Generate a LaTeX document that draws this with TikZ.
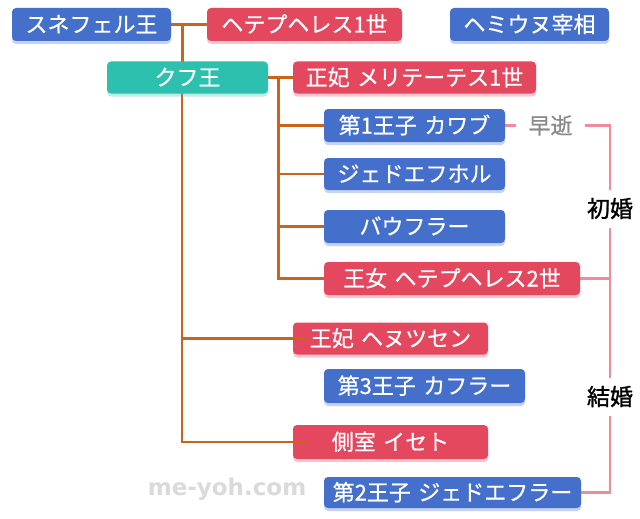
\documentclass[tikz,border=0pt]{standalone}
\usepackage{fontspec}
\setmainfont{Noto Sans CJK JP}[WordSpace=1.5]
\newfontfamily\boxfont{Noto Sans CJK JP}[WordSpace=1.5, FakeBold=0.6]
\newfontfamily\lblfont{Noto Sans CJK JP}[FakeBold=1.2]
\newfontfamily\wmfont{DejaVu Sans}
\usetikzlibrary{shadows,calc}
\pgfdeclarelayer{background}
\pgfsetlayers{background,main}
\definecolor{cblue}{HTML}{4470CC}
\definecolor{cred}{HTML}{E4485E}
\definecolor{cteal}{HTML}{2EC0AE}
\definecolor{corange}{HTML}{C8641C}
\definecolor{cpink}{HTML}{EE8C9C}
\definecolor{cgray}{HTML}{8A8A8A}
\definecolor{cwm}{HTML}{DADADA}
\begin{document}
\begin{tikzpicture}[x=1pt,y=-1pt,
  box/.style={fill=#1, rounded corners=4pt, text=white,
    font=\boxfont\fontsize{22}{22}\selectfont, minimum height=33pt, inner sep=0pt,
    text height=17.5pt, text depth=1.5pt,
    drop shadow={shadow xshift=0pt, shadow yshift=-3pt, opacity=0.3, fill=#1}},
  bluebox/.style={box=cblue},
  redbox/.style={box=cred},
  tealbox/.style={box=cteal},
  lbl/.style={inner sep=0pt, text height=18pt, text depth=1.5pt},
  kin/.style={draw=corange, line width=2.8pt, line cap=rect},
  pinkl/.style={draw=cpink, line width=2.6pt, line cap=rect}]
\useasboundingbox (0,0) rectangle (640,519);

% nodes
\node[bluebox, minimum width=159pt] (sne) at (91.5,24.5) {スネフェル王};
\node[redbox, minimum width=195pt] (hh1) at (304.5,24.5) {ヘテプヘレス1世};
\node[bluebox, minimum width=159pt] (hem) at (529.5,24.5) {ヘミウヌ宰相};
\node[tealbox, minimum width=161pt, minimum height=32pt] (khufu) at (187.5,77.5) {クフ王};
\node[redbox, minimum width=243pt, minimum height=32pt] (meri) at (414.5,77.5) {正妃 メリテーテス1世};
\node[bluebox, minimum width=181pt] (kawab) at (414.5,125.5) {第1王子 カワブ};
\node[bluebox, minimum width=181pt, minimum height=32pt] (djh) at (414.5,174) {ジェドエフホル};
\node[bluebox, minimum width=181pt] (bau) at (414.5,226.5) {バウフラー};
\node[redbox, minimum width=256pt] (hh2) at (452,278.5) {王女 ヘテプヘレス2世};
\node[redbox, minimum width=195pt, minimum height=32pt] (henut) at (390.5,338.5) {王妃 ヘヌツセン};
\node[bluebox, minimum width=201pt, minimum height=34pt] (khafra) at (424.5,386) {第3王子 カフラー};
\node[redbox, minimum width=195pt, minimum height=34pt] (iset) at (390.5,442) {側室 イセト};
\node[bluebox, minimum width=257pt, minimum height=31pt] (djr) at (452.5,492.5) {第2王子 ジェドエフラー};

\node[lbl, text=cgray, minimum width=71pt, font=\boxfont\fontsize{22}{22}\selectfont] (sosei) at (550.5,125.5) {早逝};
\node[lbl, minimum height=40pt, font=\lblfont\fontsize{23}{23}\selectfont] (shokon) at (610,209) {初婚};
\node[lbl, minimum height=40pt, font=\lblfont\fontsize{23}{23}\selectfont] (kekkon) at (610,397) {結婚};

\node[inner sep=0pt, text=cwm, font=\wmfont\bfseries\fontsize{23}{23}\selectfont] (wm) at (227,489) {me-yoh.com};

\coordinate (j1) at ($(sne.east)+(11.5,0)$);
\coordinate (j2) at ($(khufu.east)+(10,0)$);
\coordinate (j3) at ($(khufu.south)+(-5.5,0)$);

\begin{pgfonlayer}{background}
  \fill[white] (0,0) rectangle (640,519);
  \draw[kin] (sne.east) -- (hh1.west);
  \draw[kin] (j1) -- (j1 |- khufu.north);
  \draw[kin] (khufu.east) -- (meri.west);
  \draw[kin] (j2) -- (j2 |- hh2.west);
  \foreach \c in {kawab,djh,bau,hh2} {
    \draw[kin] (j2 |- \c.west) -- (\c.west);
  }
  \draw[kin] (j3) -- (j3 |- iset.west);
  \draw[pinkl] (kawab.east) -- (sosei.west);
  \draw[pinkl] (hh2.east) -- (hh2.east -| shokon.south);
  \draw[pinkl] (kekkon.south) |- (djr.east);
\end{pgfonlayer}
\draw[kin] (j3 |- henut.west) -- ($(henut.west)+(14,0)$);
\draw[kin] (j3 |- iset.west) -- ($(iset.west)+(14,0)$);
\draw[pinkl] (sosei.east) -| (shokon.north);
\draw[pinkl] (shokon.south) -- (kekkon.north);
\end{tikzpicture}
\end{document}
